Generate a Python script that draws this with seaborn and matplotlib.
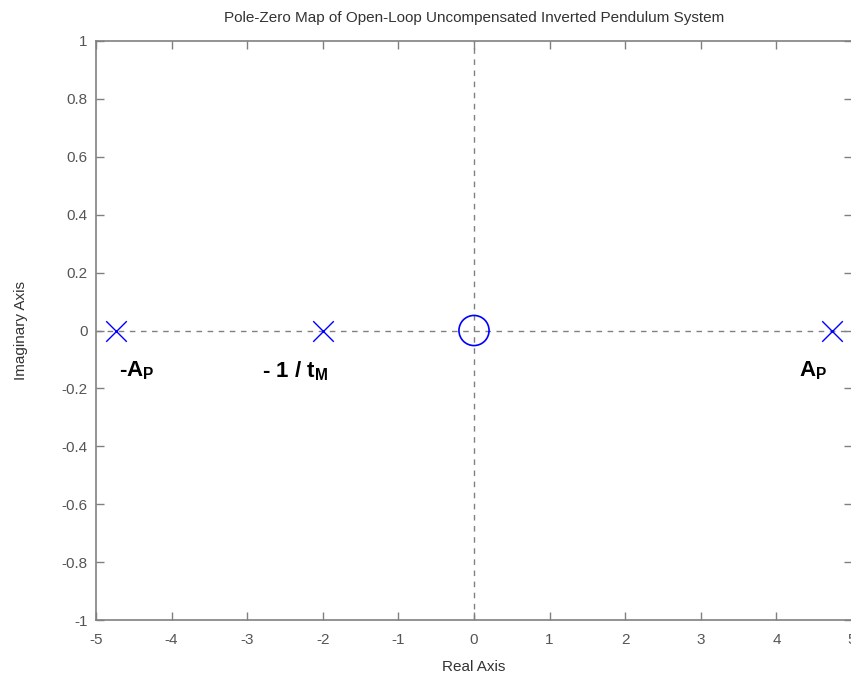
# Pole-zero map of the open-loop inverted pendulum
import pandas as pd
import seaborn as sns
import matplotlib.pyplot as plt

sns.set_style("white")
plt.rcParams['font.family'] = ['Liberation Sans', 'DejaVu Sans']
plt.rcParams['mathtext.fontset'] = 'custom'
plt.rcParams['mathtext.bf'] = 'Liberation Sans:bold'
plt.rcParams['mathtext.rm'] = 'Liberation Sans'

# Data
pole_re = [-4.73, -2.0, 4.73]
pole_im = [0.0, 0.0, 0.0]
zero_re = [0.0]
zero_im = [0.0]
label_text = [r'-A$_\mathbf{P}$', r'- 1 / t$_\mathbf{M}$', r'A$_\mathbf{P}$']
label_x = [-4.70, -2.80, 4.30]
label_y = [-0.14, -0.14, -0.14]
xticks = list(range(-5, 6))
yticks = [-1, -0.8, -0.6, -0.4, -0.2, 0, 0.2, 0.4, 0.6, 0.8, 1]

poles = pd.DataFrame({'re': pole_re, 'im': pole_im})
zeros = pd.DataFrame({'re': zero_re, 'im': zero_im})

fig = plt.figure(figsize=(8.51, 6.81), dpi=100)
ax = fig.add_axes([96 / 851, 61 / 681, 756 / 851, 579 / 681])

gray = '#808080'
ax.axhline(0, color=gray, ls=(0, (4, 4)), lw=1, zorder=1)
ax.axvline(0, color=gray, ls=(0, (4, 4)), lw=1, zorder=1)

sns.scatterplot(data=poles, x='re', y='im', marker='x', s=220, color='blue',
                linewidth=1.0, ax=ax, zorder=3)
sns.scatterplot(data=zeros, x='re', y='im', marker='o', s=470, facecolor='none',
                edgecolor='blue', linewidth=1.2, ax=ax, zorder=3)

for t, x, y in zip(label_text, label_x, label_y):
    ax.text(x, y, t, fontsize=16, fontweight='bold', color='black', ha='left', va='center')

ax.set_xlim(-5, 5)
ax.set_ylim(-1, 1)
ax.set_xticks(xticks)
ax.set_yticks(yticks)
ax.set_xticklabels([str(v) for v in xticks])
ax.set_yticklabels(['%g' % v for v in yticks])
ax.tick_params(direction='in', length=6, width=1, color=gray, labelcolor='#555555',
               labelsize=11, top=True, right=True, bottom=True, left=True, pad=6)
ax.tick_params(axis='x', pad=9)
for s in ax.spines.values():
    s.set_color(gray)
    s.set_linewidth(1.2)

ax.set_xlabel('Real Axis', fontsize=11, color='#333333', labelpad=10)
ax.set_ylabel('Imaginary Axis', fontsize=11, color='#333333', labelpad=24)
ax.set_title('Pole-Zero Map of Open-Loop Uncompensated Inverted Pendulum System',
             fontsize=11, color='#333333', pad=14)

fig.savefig('out.png', dpi=100)
